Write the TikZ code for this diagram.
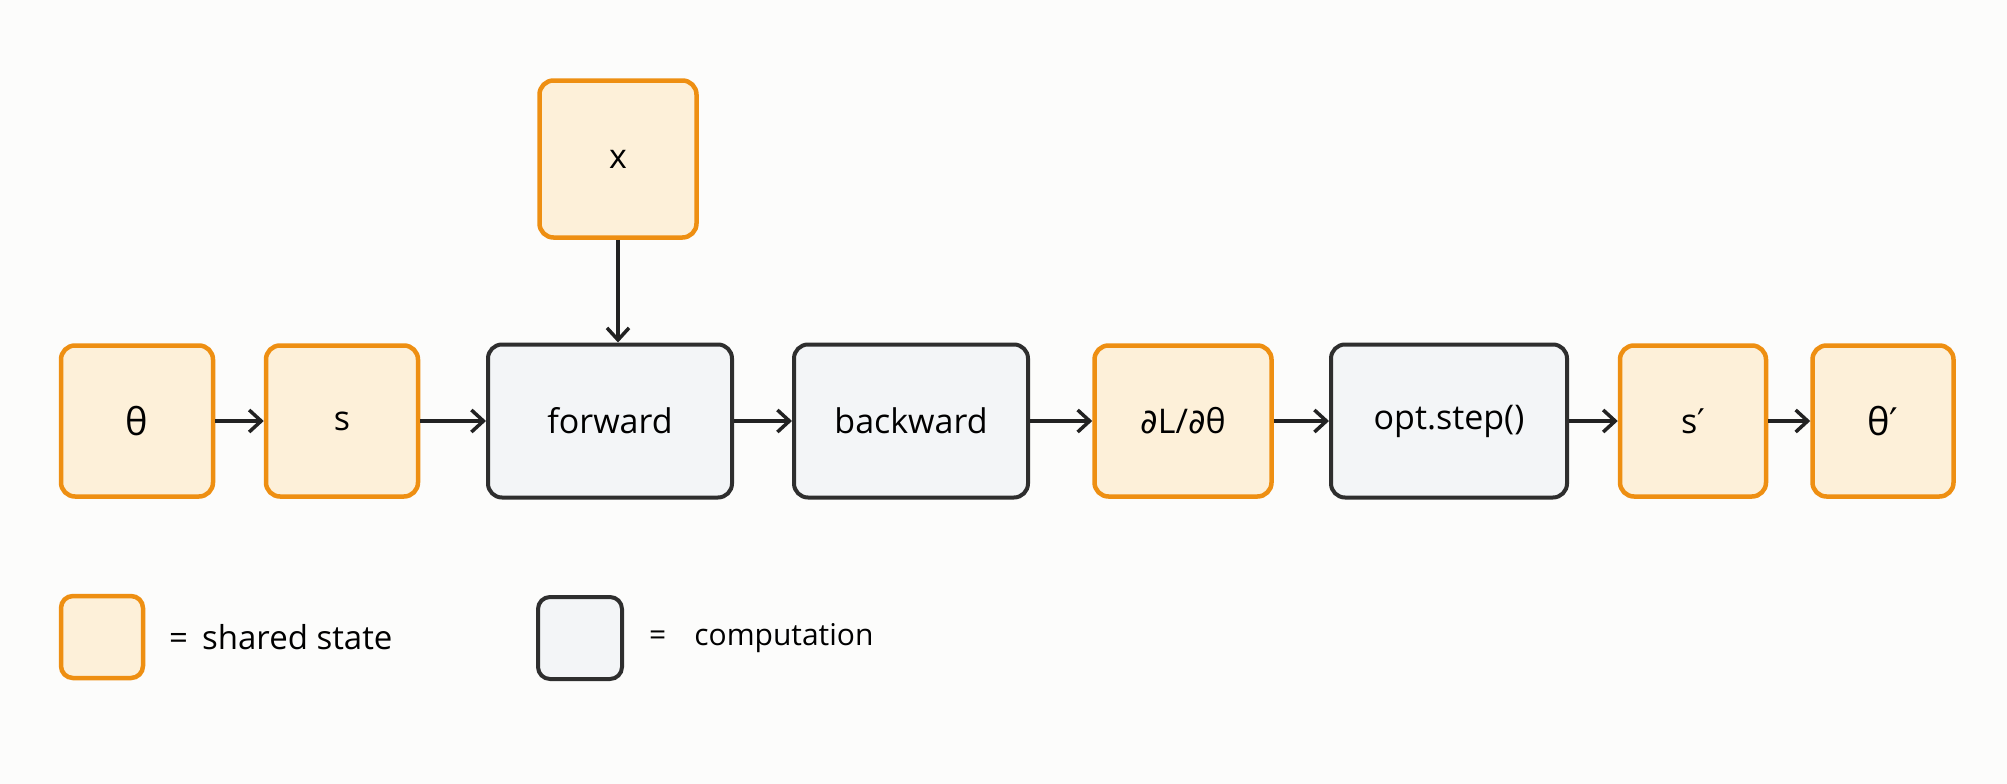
\documentclass[tikz,border=0pt]{standalone}
\usepackage{fontspec}
\setmainfont{Open Sans}
\newfontfamily\symfont{DejaVu Sans}
\usetikzlibrary{arrows.meta}
\definecolor{bgc}{HTML}{FCFCFB}
\definecolor{orst}{HTML}{EE8F12}
\definecolor{orfi}{HTML}{FDF0D9}
\definecolor{dkst}{HTML}{2E2E2E}
\definecolor{grfi}{HTML}{F3F5F7}
\definecolor{arc}{HTML}{222222}
\tikzset{
  x=1pt, y=-1pt,
  statebox/.style={draw=orst, fill=orfi, line width=4.5pt, rounded corners=14pt,
    minimum height=151pt, inner sep=0pt, font=\fontsize{34}{38}\selectfont},
  compbox/.style={draw=dkst, fill=grfi, line width=4pt, rounded corners=14pt,
    minimum height=153pt, inner sep=0pt, font=\fontsize{34}{38}\selectfont},
  flow/.style={draw=arc, line width=3.5pt, -{Straight Barb[length=12pt,width=22pt,line width=3.5pt]}},
  legtext/.style={anchor=west, inner sep=0pt, font=\fontsize{33}{37}\selectfont}
}
\begin{document}
\begin{tikzpicture}
\fill[bgc] (0,0) rectangle (2007,784);
\useasboundingbox (0,0) rectangle (2007,784);
\node[statebox, minimum width=152pt] (theta) at (137,421) {\fontsize{38}{40}\selectfont θ};
\node[statebox, minimum width=152pt] (s) at (342,421) {s};
\node[compbox, minimum width=244pt] (fwd) at (610,421) {forward};
\node[compbox, minimum width=234pt] (bwd) at (911,421) {backward};
\node[statebox, minimum width=177pt] (grad) at (1183,421) {{\symfont ∂}L/{\symfont ∂}θ};
\node[compbox, minimum width=236pt] (opt) at (1449,421) {opt.step()};
\node[statebox, minimum width=146pt] (s2) at (1693,421) {s{\symfont ′}};
\node[statebox, minimum width=141pt] (theta2) at (1883,421) {\fontsize{38}{40}\selectfont θ{\symfont ′}};
\node[statebox, minimum width=157pt, minimum height=157pt] (x) at (618,159) {x};
\draw[flow] (theta) -- (s);
\draw[flow] (s) -- (fwd);
\draw[flow] (fwd) -- (bwd);
\draw[flow] (bwd) -- (grad);
\draw[flow] (grad) -- (opt);
\draw[flow] (opt) -- (s2);
\draw[flow] (s2) -- (theta2);
\draw[flow] (x) -- (x |- fwd.north);
\node[statebox, minimum width=82pt, minimum height=82pt, rounded corners=12pt] (lgs) at (102,637) {};
\node[legtext] (lgst) at (169,637) {=\hspace{14pt}shared state};
\node[compbox, minimum width=84pt, minimum height=82pt, rounded corners=12pt] (lgc) at (580,638) {};
\node[legtext, font=\fontsize{30}{34}\selectfont] (lgct) at (649,638) {=\hspace{28pt}computation};
\end{tikzpicture}
\end{document}
